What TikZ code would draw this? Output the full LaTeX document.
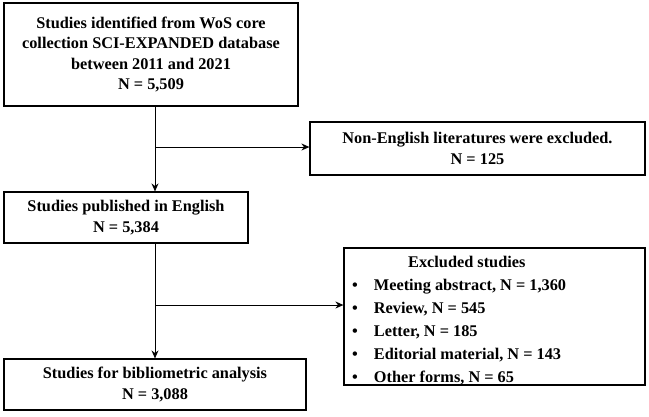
\documentclass[tikz,border=0pt]{standalone}
\usepackage{fontspec}
\setmainfont{Liberation Serif}
\usetikzlibrary{arrows.meta}
\begin{document}
\begin{tikzpicture}[x=1pt,y=-1pt,
  txt/.style={font=\bfseries\fontsize{16.3}{20.5}\selectfont},
  box/.style={draw,line width=1.2pt,txt,align=center,inner sep=0pt},
  arr/.style={line width=0.9pt,-{Stealth[length=8pt,width=7pt]}}]
\useasboundingbox (0,0) rectangle (649,416);
\node[box,minimum width=294pt,minimum height=103pt] (a) at (151,54.5) {Studies identified from WoS core\\collection SCI-EXPANDED database\\between 2011 and 2021\\N = 5,509};
\node[box,minimum width=335pt,minimum height=53pt] (b) at (477.5,148.5) {Non-English literatures were excluded.\\N = 125};
\node[box,minimum width=244pt,minimum height=51pt] (c) at (126,217.5) {Studies published in English\\N = 5,384};
\node[box,minimum width=301pt,minimum height=137pt] (d) at (494.5,316.5) {};
\node[font=\bfseries\fontsize{16.3}{23}\selectfont,align=left,anchor=north west,inner sep=0pt] (dt) at (352,256) {\hspace*{56pt}Excluded studies\\
\textbullet\hspace{16pt}Meeting abstract, N = 1,360\\
\textbullet\hspace{16pt}Review, N = 545\\
\textbullet\hspace{16pt}Letter, N = 185\\
\textbullet\hspace{16pt}Editorial material, N = 143\\
\textbullet\hspace{16pt}Other forms, N = 65};
\node[box,minimum width=302pt,minimum height=51pt] (e) at (155,384.5) {Studies for bibliometric analysis\\N = 3,088};
\coordinate (j1) at (155,147);
\coordinate (j2) at (155,305);
\draw[arr] (a.south -| j1) -- (c.north -| j1);
\draw[arr] (j1) -- (b.west |- j1);
\draw[arr] (c.south -| j2) -- (e.north -| j2);
\draw[arr] (j2) -- (d.west |- j2);
\end{tikzpicture}
\end{document}
